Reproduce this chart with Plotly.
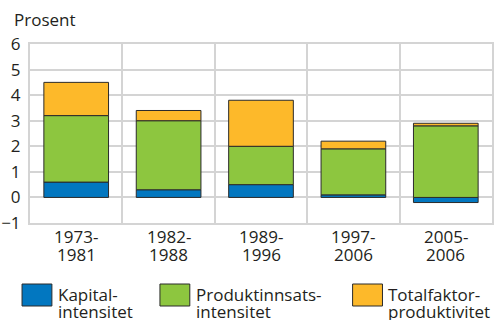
import plotly.graph_objects as go

# Periods (two-line labels) and contributions in percentage points
period_top = ["1973-", "1982-", "1989-", "1997-", "2005-"]
period_bottom = ["1981", "1988", "1996", "2006", "2006"]
categories = [a + b for a, b in zip(period_top, period_bottom)]

kapital = [0.6, 0.3, 0.5, 0.1, -0.2]
produktinnsats = [2.6, 2.7, 1.5, 1.8, 2.8]
totalfaktor = [1.3, 0.4, 1.8, 0.3, 0.1]

series_names = [["Kapital-", "intensitet"],
                ["Produktinnsats-", "intensitet"],
                ["Totalfaktor-", "produktivitet"]]
series_values = [kapital, produktinnsats, totalfaktor]
colors = ["#0277C0", "#8DC63F", "#FDB92A"]

W, H = 495, 320
L, R, T, B = 30, 1, 44, 97
FONT = "Open Sans"
FS = 17
TXT = "#231F20"
GRID = "#D4D4D4"


def px(x):
    return (x - L) / (W - L - R)


def py(y):
    return (H - B - y) / (H - T - B)


fig = go.Figure()
for name, vals, col in zip(series_names, series_values, colors):
    fig.add_trace(go.Bar(
        x=categories, y=vals, name="".join(name),
        marker=dict(color=col, line=dict(color="#2b2b2b", width=1)),
        showlegend=False,
    ))

annotations = [dict(text="Prosent", xref="paper", yref="paper",
                    x=px(12), y=py(20), xanchor="left", yanchor="middle",
                    showarrow=False, font=dict(family=FONT, size=FS, color=TXT))]

# Two-line category labels under the axis
for cat, top, bot in zip(categories, period_top, period_bottom):
    for text, shift in ((top, -13), (bot, -31)):
        annotations.append(dict(text=text, xref="x", yref="paper", x=cat, y=0,
                                yanchor="middle", yshift=shift, showarrow=False,
                                font=dict(family=FONT, size=FS, color=TXT)))

# Legend: swatches with two-line names
shapes = []
legend_x = [22, 160.5, 354]
for lx, name, col in zip(legend_x, series_names, colors):
    shapes.append(dict(type="rect", xref="paper", yref="paper",
                       x0=px(lx), x1=px(lx + 30), y0=py(306), y1=py(284),
                       fillcolor=col, line=dict(color="#2b2b2b", width=1)))
    for text, yy in zip(name, (294, 311.5)):
        annotations.append(dict(text=text, xref="paper", yref="paper",
                                x=px(lx + 34), y=py(yy), xanchor="left",
                                yanchor="middle", showarrow=False,
                                font=dict(family=FONT, size=FS, color=TXT)))

fig.update_layout(
    width=W, height=H,
    margin=dict(l=L, r=R, t=T, b=B, pad=0),
    barmode="relative", bargap=0.3,
    plot_bgcolor="white", paper_bgcolor="white",
    font=dict(family=FONT, size=FS, color=TXT),
    annotations=annotations, shapes=shapes,
)
fig.update_xaxes(type="category", tickson="boundaries", showticklabels=False,
                 showgrid=True, gridcolor=GRID, gridwidth=2,
                 showline=True, linecolor=GRID, linewidth=2, mirror=True,
                 ticks="", range=[-0.5, 4.5])
fig.update_yaxes(range=[-1, 6], dtick=1, tickvals=list(range(-1, 7)),
                 showgrid=True, gridcolor=GRID, gridwidth=2,
                 zeroline=False, showline=True, linecolor=GRID, linewidth=2,
                 mirror=True, ticks="", ticklabelstandoff=4,
                 tickfont=dict(family=FONT, size=FS, color=TXT))

fig.write_html("out.html")
